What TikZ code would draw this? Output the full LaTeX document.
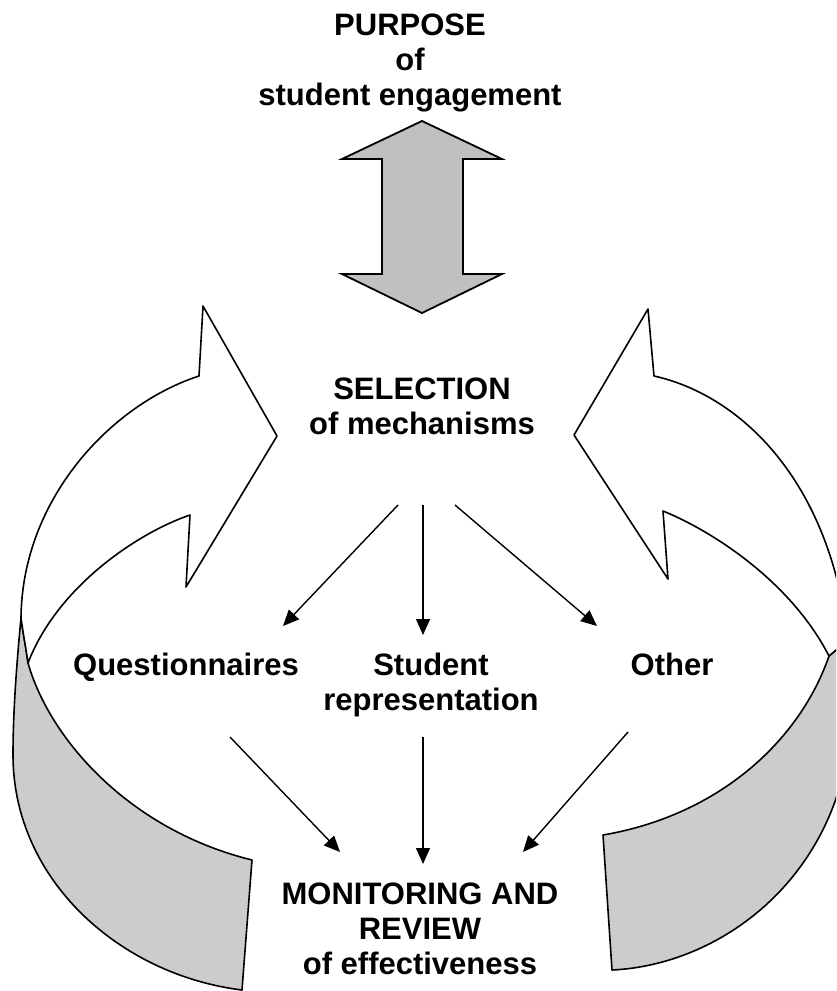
\documentclass[tikz,border=0pt]{standalone}
\usepackage{fontspec}
\setmainfont{Liberation Sans}
\usetikzlibrary{arrows.meta}

\definecolor{bandgray}{RGB}{204,204,204}
\definecolor{headgray}{RGB}{192,192,192}

\tikzset{
  stagetext/.style={font=\fontsize{31}{35}\selectfont\bfseries, align=center, inner sep=0pt},
  link/.style={line width=1.4pt, -{Triangle[length=16pt,width=14pt]}},
  band/.style={draw, line width=1.6pt, line join=round},
}

\begin{document}
\begin{tikzpicture}[x=1pt,y=-1pt]
  \useasboundingbox (0,0) rectangle (836,991);
  \clip (0,0) rectangle (836,991);

  % Left curved arrow, back side
  \filldraw[band, fill=bandgray] (21,618) .. controls (17,660) and (13,710) .. (13,755)
    .. controls (13,880) and (120,975) .. (242,990) -- (252,860)
    .. controls (130,830) and (50,740) .. (28,663)
    .. controls (26,648) and (23,633) .. cycle;
  % Left curved arrow, front side
  \filldraw[band, fill=white] (199,376) -- (203,306) -- (277,436) -- (186,587) -- (190,515)
    .. controls (140,532) and (58,585) .. (28,663)
    .. controls (26,648) and (23,633) .. (21,618)
    .. controls (22,500) and (110,405) .. cycle;

  % Right curved arrow, back side
  \filldraw[band, fill=bandgray] (848,640) -- (850,735)
    .. controls (835,880) and (720,965) .. (612,970) -- (603,835)
    .. controls (720,815) and (800,740) .. (829,656)
    .. controls (836,650) and (842,645) .. cycle;
  % Right curved arrow, front side
  \filldraw[band, fill=white] (654,376) -- (648,309) -- (574,435) -- (668,579) -- (663,511)
    .. controls (710,530) and (790,580) .. (829,656)
    .. controls (836,650) and (842,645) .. (848,640)
    .. controls (830,480) and (740,395) .. cycle;

  % Double arrow
  \filldraw[fill=headgray, line width=1.8pt] (422,121) -- (502,159) -- (463,159) -- (463,274)
    -- (502,274) -- (422,313) -- (342,274) -- (382,274) -- (382,159) -- (342,159) -- cycle;

  % Stages
  \node[stagetext] (purpose) at (410,63) {PURPOSE\\of\\student engagement};
  \node[stagetext] (selection) at (422,406) {SELECTION\\of mechanisms};
  \node[stagetext, anchor=base] (quest) at (186,675) {Questionnaires};
  \node[stagetext] (studrep) at (431,685) {Student\\representation};
  \node[stagetext, anchor=base] (other) at (672,675) {Other};
  \node[stagetext] (monitor) at (420,929) {MONITORING AND\\REVIEW\\of effectiveness};

  % Links
  \draw[link] ([shift={(-24,99)}]selection.center) -- ([shift={(97,-49)}]quest.base);
  \draw[link] ([shift={(1,99)}]selection.center) -- ([shift={(-8,-50)}]studrep.center);
  \draw[link] ([shift={(33,99)}]selection.center) -- ([shift={(-75,-49)}]other.base);
  \draw[link] ([shift={(44,62)}]quest.base) -- ([shift={(-80,-77)}]monitor.center);
  \draw[link] ([shift={(-8,52)}]studrep.center) -- ([shift={(3,-65)}]monitor.center);
  \draw[link] ([shift={(-44,57)}]other.base) -- ([shift={(103,-77)}]monitor.center);
\end{tikzpicture}
\end{document}
